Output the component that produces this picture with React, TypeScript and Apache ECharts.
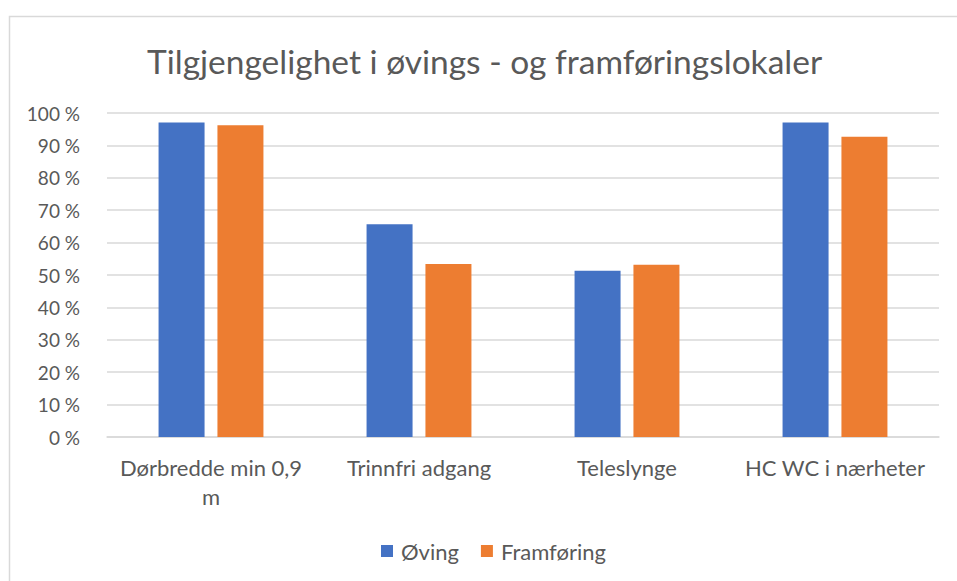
import React, { useEffect, useRef } from "react";
import * as echarts from "echarts";

const categories = ["Dørbredde min 0,9 m", "Trinnfri adgang", "Teleslynge", "HC WC i nærheter"];
const seriesNames = ["Øving", "Framføring"];
const ovingValues = [97.1, 65.7, 51.3, 97.1];
const framforingValues = [96.2, 53.4, 53.2, 92.7];
const titleText = "Tilgjengelighet i øvings - og framføringslokaler";

const FONT = "Lato";
const TEXT = "#595959";

export default function App() {
  const ref = useRef<HTMLDivElement>(null);
  useEffect(() => {
    if (!ref.current) return;
    const chart = echarts.init(ref.current, undefined, { renderer: "svg" });
    chart.setOption({
      animation: false,
      backgroundColor: "#ffffff",
      textStyle: { fontFamily: FONT },
      graphic: [
        {
          type: "rect",
          shape: { x: 9.5, y: 16.5, width: 1000, height: 700 },
          style: { fill: "none", stroke: "#d9d9d9", lineWidth: 1.5 },
          silent: true,
          z: -10,
        },
      ],
      title: {
        text: titleText,
        left: 142,
        top: 39,
        textStyle: { fontFamily: FONT, fontSize: 33.5, fontWeight: "normal", color: TEXT },
      },
      legend: {
        data: seriesNames,
        top: 535,
        left: 376,
        itemWidth: 12,
        itemHeight: 12,
        itemGap: 22,
        icon: "rect",
        textStyle: { fontFamily: FONT, fontSize: 22, color: TEXT, padding: [0, 0, 0, 3] },
      },
      grid: { left: 107, right: 18, top: 113, bottom: 144, containLabel: false },
      xAxis: {
        type: "category",
        data: categories,
        axisLine: { lineStyle: { color: "#d9d9d9", width: 1.5 } },
        axisTick: { show: false },
        axisLabel: {
          fontFamily: FONT,
          fontSize: 22,
          color: TEXT,
          margin: 16,
          lineHeight: 29,
          interval: 0,
          formatter: (v: string) => (v === "Dørbredde min 0,9 m" ? "Dørbredde min 0,9\nm" : v),
        },
      },
      yAxis: {
        type: "value",
        min: 0,
        max: 100,
        interval: 10,
        axisLine: { show: false },
        axisTick: { show: false },
        splitLine: { lineStyle: { color: "#d9d9d9", width: 1.5 } },
        axisLabel: {
          fontFamily: FONT,
          fontSize: 19,
          color: TEXT,
          margin: 27,
          formatter: (v: number) => `${v} %`,
        },
      },
      series: [
        {
          name: seriesNames[0],
          type: "bar",
          data: ovingValues,
          barWidth: 46,
          barGap: "28%",
          itemStyle: { color: "#4472c4" },
        },
        {
          name: seriesNames[1],
          type: "bar",
          data: framforingValues,
          barWidth: 46,
          itemStyle: { color: "#ed7d31" },
        },
      ],
    });
    return () => chart.dispose();
  }, []);
  return (
    <div
      ref={ref}
      style={{ position: "absolute", left: 0, top: 0, width: 957, height: 581 }}
    />
  );
}
